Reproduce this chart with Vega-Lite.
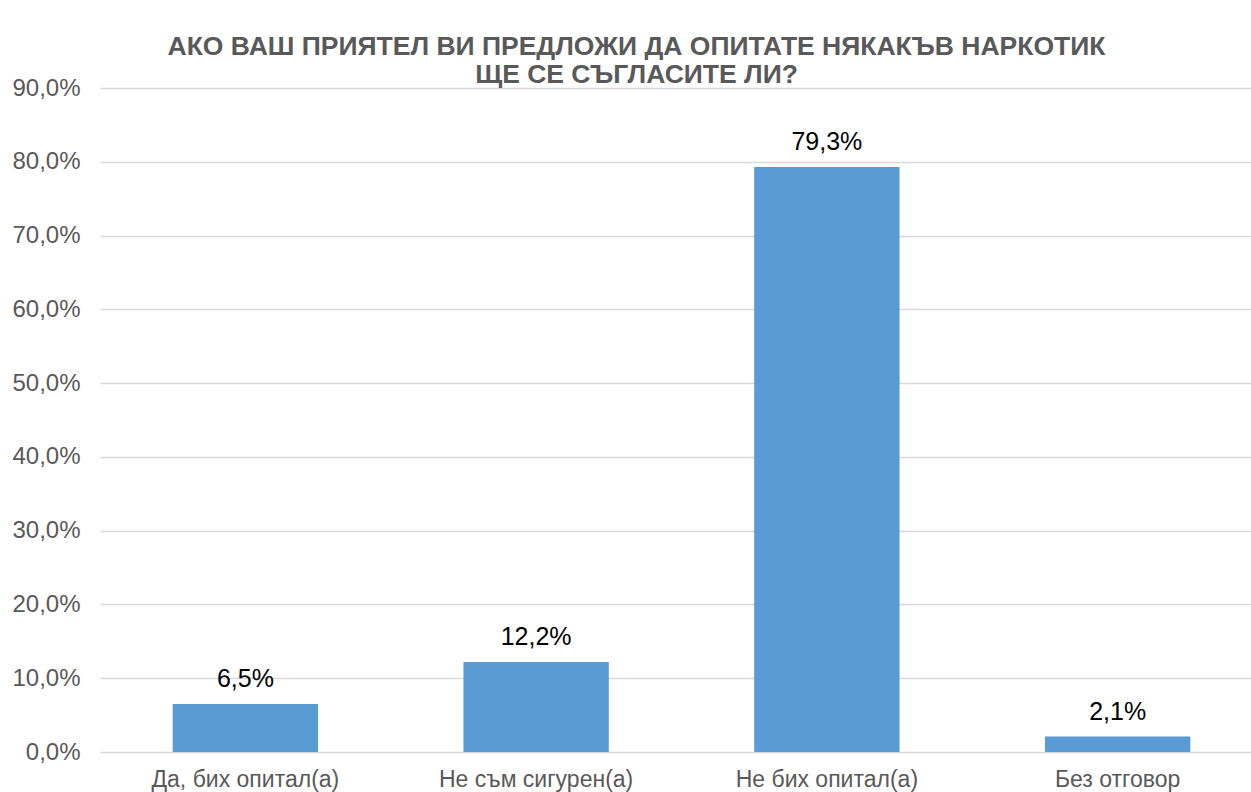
{
  "$schema": "https://vega.github.io/schema/vega-lite/v6.json",
  "autosize": {"type": "none"},
  "padding": {"left": 100, "top": 88, "right": 0, "bottom": 40},
  "width": 1163,
  "height": 664,
  "background": "white",
  "config": {
    "locale": {"number": {"decimal": ",", "thousands": " ", "grouping": [3], "currency": ["", ""]}},
    "font": "Liberation Sans",
    "view": {"stroke": null}
  },
  "title": {
    "text": ["АКО ВАШ ПРИЯТЕЛ ВИ ПРЕДЛОЖИ ДА ОПИТАТЕ НЯКАКЪВ НАРКОТИК", "ЩЕ СЕ СЪГЛАСИТЕ ЛИ?"],
    "anchor": "middle",
    "frame": "group",
    "dx": -45,
    "offset": -12,
    "fontSize": 26.5,
    "fontWeight": "bold",
    "color": "#595959",
    "lineHeight": 28,
    "font": "Liberation Sans"
  },
  "data": {
    "values": [
      {"answer": "Да, бих опитал(а)", "share": 0.065},
      {"answer": "Не съм сигурен(а)", "share": 0.122},
      {"answer": "Не бих опитал(а)", "share": 0.793},
      {"answer": "Без отговор", "share": 0.021}
    ]
  },
  "encoding": {
    "x": {
      "field": "answer",
      "type": "nominal",
      "sort": null,
      "scale": {"paddingInner": 0.5, "paddingOuter": 0.25},
      "axis": {
        "title": null,
        "labelAngle": 0,
        "labelFontSize": 23,
        "labelColor": "#595959",
        "labelPadding": 16,
        "labelLimit": 0,
        "ticks": false,
        "domain": false
      }
    },
    "y": {
      "field": "share",
      "type": "quantitative",
      "scale": {"domain": [0, 0.9], "nice": false},
      "axis": {
        "title": null,
        "format": ".1%",
        "values": [0, 0.1, 0.2, 0.3, 0.4, 0.5, 0.6, 0.7, 0.8, 0.9],
        "labelFontSize": 24,
        "labelColor": "#595959",
        "labelPadding": 20,
        "ticks": false,
        "domain": false,
        "gridColor": "#d9d9d9",
        "gridWidth": 1.5
      }
    }
  },
  "layer": [
    {"mark": {"type": "bar", "color": "#5b9bd5"}},
    {
      "mark": {"type": "text", "baseline": "alphabetic", "dy": -17, "fontSize": 25, "color": "#000000"},
      "encoding": {"text": {"field": "share", "type": "quantitative", "format": ".1%"}}
    }
  ]
}
